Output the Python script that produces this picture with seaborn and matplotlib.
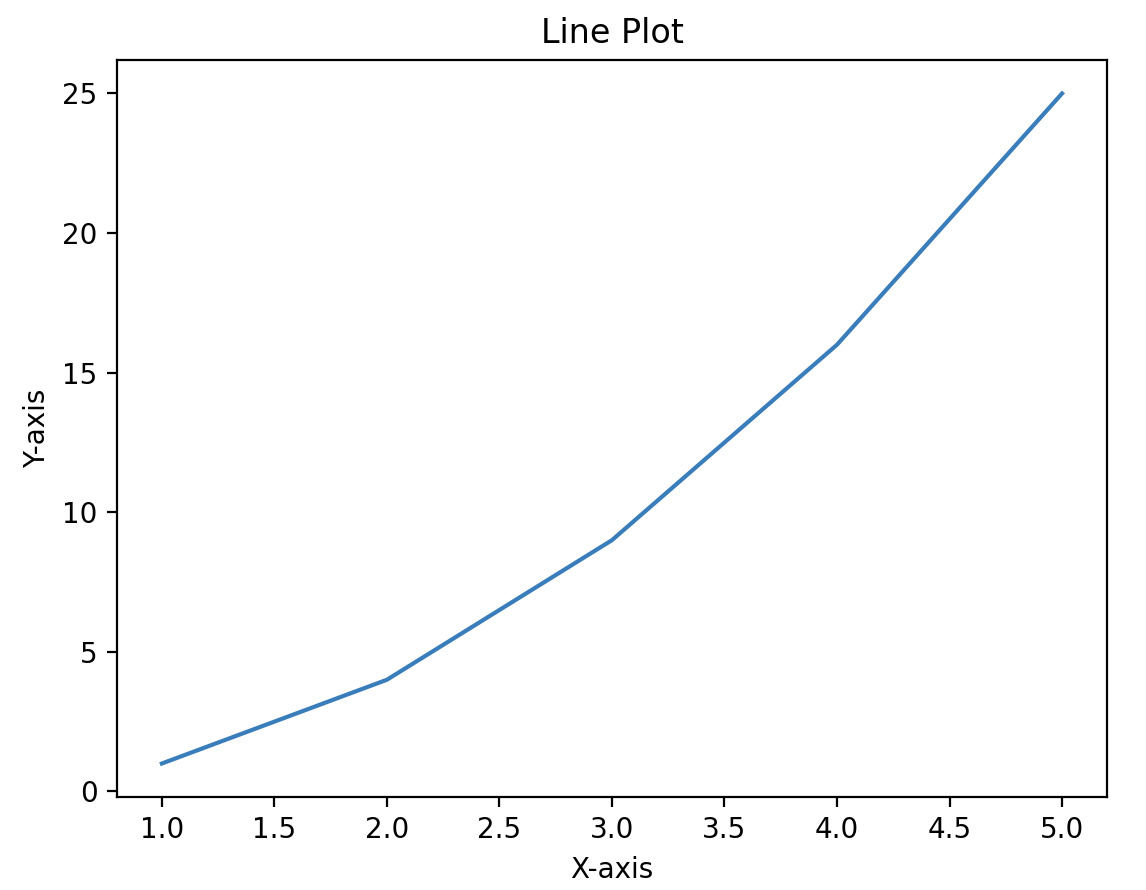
import matplotlib
matplotlib.use("Agg")
import matplotlib.pyplot as plt
import seaborn as sns

x_values = [1, 2, 3, 4, 5]
y_values = [1, 4, 9, 16, 25]

fig, ax = plt.subplots(figsize=(5.73, 4.45), dpi=200)
fig.subplots_adjust(left=0.102, right=0.966, bottom=0.1045, top=0.9326)

sns.lineplot(x=x_values, y=y_values, ax=ax, color="#3a7dbb", linewidth=1.5)

ax.set_xlabel("X-axis")
ax.set_ylabel("Y-axis")
ax.set_title("Line Plot")

fig.savefig("out.png", dpi=200)
plt.close(fig)
